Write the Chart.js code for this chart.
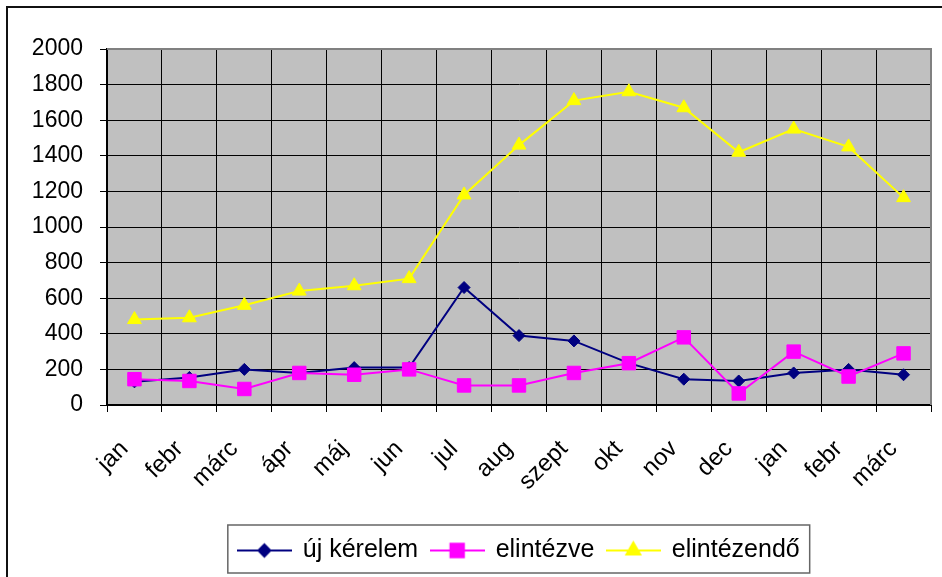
<!DOCTYPE html>
<html>
<head>
<meta charset="utf-8">
<script src="https://cdn.jsdelivr.net/npm/chart.js@4/dist/chart.umd.min.js"></script>
<style>
  html, body { margin: 0; padding: 0; background: #fff; }
  #c { display: block; }
</style>
</head>
<body>
<canvas id="c" width="942" height="577"></canvas>
<script>
// ---- data ----
const categories = ['jan', 'febr', 'márc', 'ápr', 'máj', 'jun', 'jul', 'aug', 'szept', 'okt', 'nov', 'dec', 'jan', 'febr', 'márc'];
const seriesNames = ['új kérelem', 'elintézve', 'elintézendő'];
const ujKerelem   = [130, 155, 200, 180, 210, 210, 660, 390, 360, 235, 145, 135, 180, 200, 170];
const elintezve   = [145, 135, 90, 180, 170, 200, 110, 110, 180, 235, 380, 65, 300, 160, 290];
const elintezendo = [480, 490, 560, 640, 670, 710, 1180, 1460, 1710, 1760, 1670, 1420, 1550, 1450, 1165];
const yTickValues = [0, 200, 400, 600, 800, 1000, 1200, 1400, 1600, 1800, 2000];

// ---- styles ----
const FONT = "'Liberation Sans', Arial, sans-serif";
const colors = ['#000080', '#FF00FF', '#FFFF00'];
const markers = ['rectRot', 'rect', 'triangle'];
const radii = [6, 9.5, 8];

function makeLegendIcon(color, marker, r) {
  const c = document.createElement('canvas');
  c.width = 55; c.height = 24;
  const ctx = c.getContext('2d');
  ctx.strokeStyle = color;
  ctx.lineWidth = 2;
  ctx.beginPath();
  ctx.moveTo(0, 12); ctx.lineTo(55, 12);
  ctx.stroke();
  ctx.fillStyle = color;
  Chart.helpers.drawPoint(ctx, { pointStyle: marker, radius: r, rotation: 0, borderWidth: 1 }, 27.5, 12);
  return c;
}
const legendIcons = colors.map((c, i) => makeLegendIcon(c, markers[i], radii[i]));

const framePlugin = {
  id: 'frame',
  beforeDraw(chart) {
    const { ctx, chartArea: a } = chart;
    ctx.save();
    ctx.fillStyle = '#C0C0C0';
    ctx.fillRect(a.left, a.top, a.right - a.left, a.bottom - a.top);
    ctx.restore();
  },
  beforeDatasetsDraw(chart) {
    const { ctx, chartArea: a } = chart;
    ctx.save();
    ctx.strokeStyle = '#808080';
    ctx.lineWidth = 2;
    ctx.beginPath();
    ctx.moveTo(a.left, a.top);
    ctx.lineTo(a.right, a.top);
    ctx.lineTo(a.right, a.bottom);
    ctx.stroke();
    ctx.restore();
  },
  afterDraw(chart) {
    const { ctx } = chart;
    ctx.save();
    // outer chart frame (top & left visible)
    ctx.strokeStyle = '#111';
    ctx.lineWidth = 2;
    ctx.beginPath();
    ctx.moveTo(7, 577);
    ctx.lineTo(7, 7);
    ctx.lineTo(942, 7);
    ctx.stroke();
    // legend box
    const lg = chart.legend;
    const hb = lg.legendHitBoxes;
    if (hb && hb.length) {
      const left = Math.min(...hb.map(h => h.left)) - 10.5;
      const right = Math.max(...hb.map(h => h.left + h.width)) + 10;
      ctx.strokeStyle = '#666';
      ctx.lineWidth = 1.5;
      ctx.strokeRect(left, 525, right - left, 48);
    }
    ctx.restore();
  }
};

const seriesData = [ujKerelem, elintezve, elintezendo];
const datasets = seriesData.map((d, i) => ({
  label: seriesNames[i],
  data: d,
  borderColor: colors[i],
  backgroundColor: colors[i],
  pointBackgroundColor: colors[i],
  pointBorderColor: colors[i],
  pointStyle: markers[i],
  pointRadius: radii[i],
  pointBorderWidth: 1,
  borderWidth: 2,
  tension: 0,
  fill: false,
  order: 3 - i
}));

new Chart(document.getElementById('c'), {
  type: 'line',
  data: { labels: categories, datasets },
  plugins: [framePlugin],
  options: {
    responsive: false,
    devicePixelRatio: 1,
    animation: false,
    layout: { padding: { top: 49, right: 11, bottom: 4, left: 0 } },
    plugins: {
      tooltip: { enabled: false },
      legend: {
        position: 'bottom',
        fullSize: false,
        labels: {
          usePointStyle: true,
          pointStyleWidth: 52,
          padding: 13,
          color: '#000',
          font: { family: FONT, size: 25 },
          sort: (a, b) => a.datasetIndex - b.datasetIndex,
          generateLabels(chart) {
            const items = Chart.defaults.plugins.legend.labels.generateLabels(chart);
            items.forEach(it => { it.pointStyle = legendIcons[it.datasetIndex]; });
            return items;
          }
        }
      }
    },
    scales: {
      x: {
        offset: true,
        grid: { offset: true, color: '#000', lineWidth: 1, tickLength: 7, drawTicks: true },
        border: { color: '#000', width: 2 },
        ticks: {
          autoSkip: false,
          minRotation: 45,
          maxRotation: 45,
          padding: 23,
          labelOffset: -10,
          color: '#000',
          font: { family: FONT, size: 24 }
        },
        afterFit(scale) {
          scale.height = 120;
          scale.paddingLeft = 0;
          scale.paddingRight = 0;
        }
      },
      y: {
        min: 0,
        max: 2000,
        afterBuildTicks(scale) { scale.ticks = yTickValues.map(v => ({ value: v })); },
        grid: { color: '#000', lineWidth: 1, tickLength: 7 },
        border: { color: '#000', width: 2 },
        ticks: {
          padding: 17,
          color: '#000',
          font: { family: FONT, size: 23 },
          callback: (v) => String(v)
        },
        afterFit(scale) {
          scale.width = 107;
          scale.paddingTop = 0;
          scale.paddingBottom = 0;
        }
      }
    }
  }
});
</script>
</body>
</html>
